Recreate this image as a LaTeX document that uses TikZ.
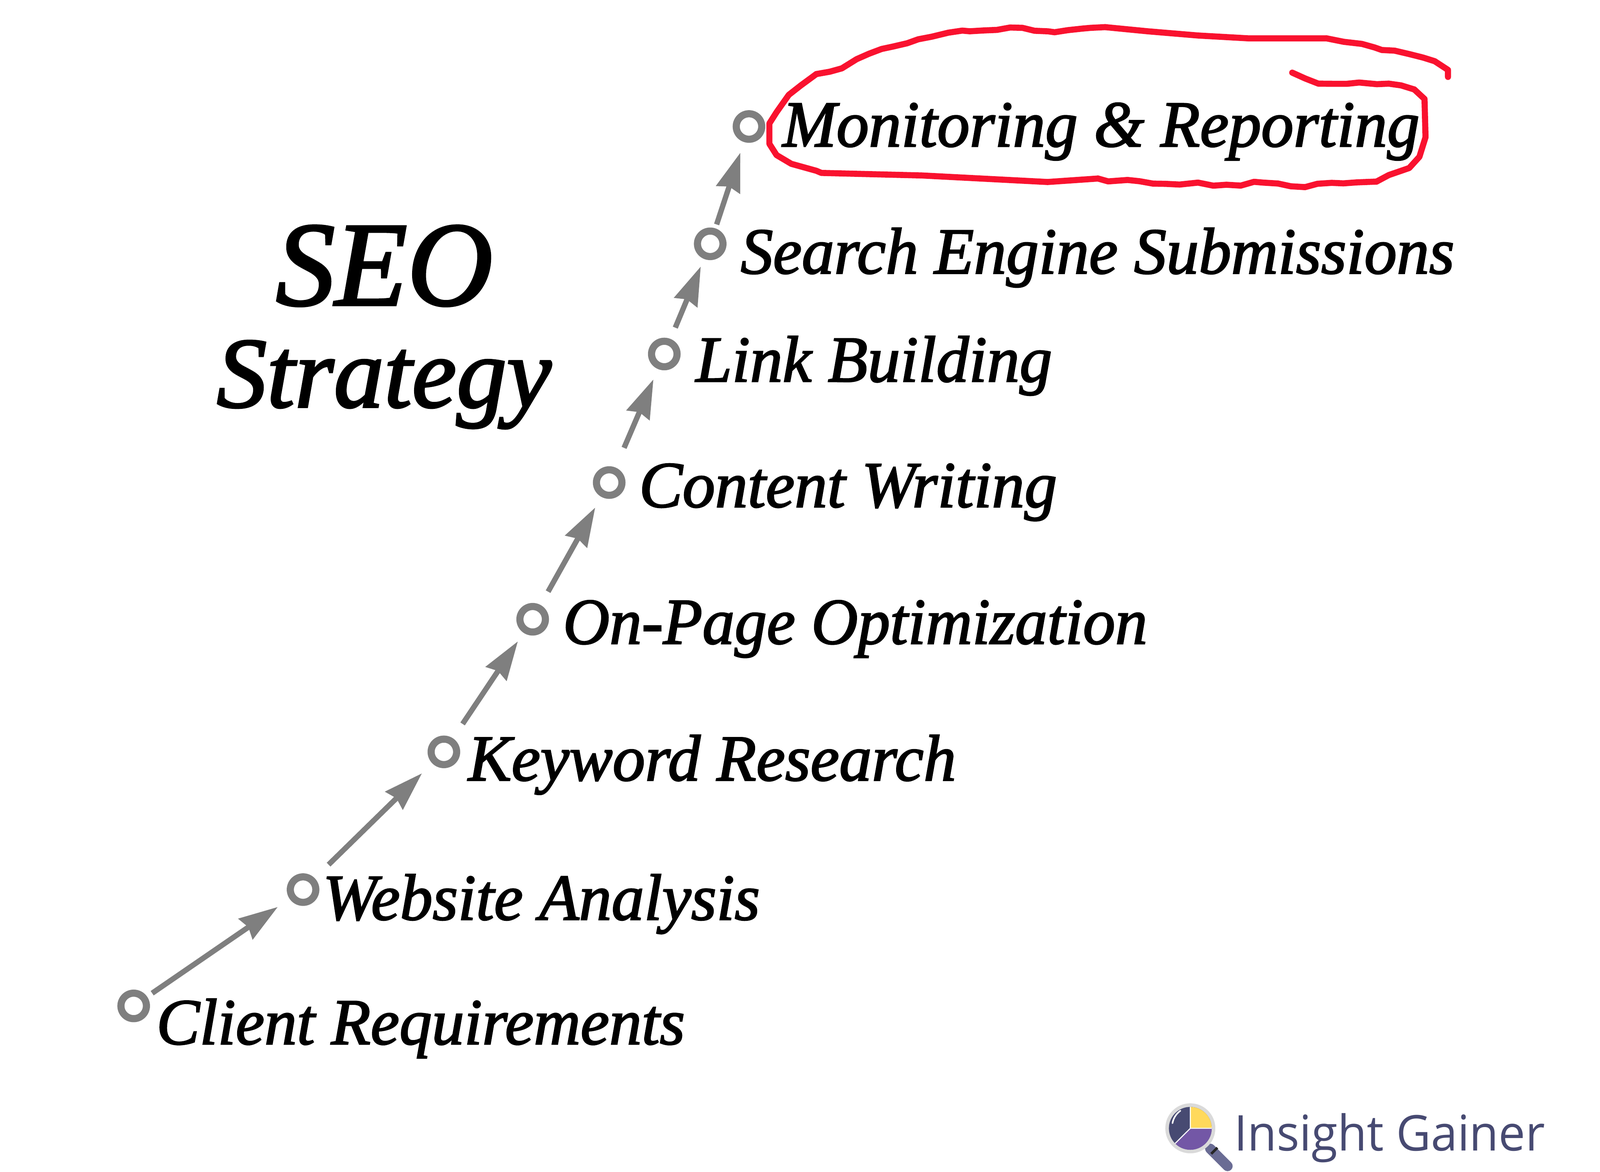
\documentclass[tikz,border=0pt]{standalone}
\usepackage{graphicx}
\usepackage{fontspec}
\setmainfont{Liberation Serif}
\newfontfamily\labfont{Liberation Serif Italic}[FakeBold=2]
\newfontfamily\logofont{Open Sans}
\usetikzlibrary{arrows.meta,decorations.pathmorphing}
\definecolor{ringgray}{HTML}{7F7F7F}
\definecolor{scribble}{HTML}{F9122F}
\definecolor{logoink}{HTML}{474A72}
\definecolor{logoyel}{HTML}{FFD95C}
\definecolor{logopur}{HTML}{7357A6}
\definecolor{logorim}{HTML}{DADADA}
\definecolor{logohan}{HTML}{6A6C94}
\newcommand{\squeezed}[2]{\scalebox{#1}[1]{#2}}
\tikzset{
  ring/.style={circle,draw=ringgray,line width=0.14cm,minimum size=0.5cm,inner sep=0pt,fill=white},
  stepline/.style={draw=ringgray,line width=0.105cm,-{Stealth[length=0.76cm,width=0.48cm,inset=0.06cm]}},
  lab/.style={anchor=base west,inner sep=0pt,font=\labfont\fontsize{36.5}{36.5}\selectfont,text=black},
  redline/.style={draw=scribble,line width=0.12cm,line join=round,line cap=round},
  jag/.style={redline,decorate,decoration={random steps,segment length=0.26cm,amplitude=0.035cm}}
}
\begin{document}
\begin{tikzpicture}[x=0.02cm,y=-0.02cm]
\useasboundingbox (0,0) rectangle (1568,1148.7);
\node[ring] (r1) at (131,986) {};
\node[ring] (r2) at (297,872) {};
\node[ring] (r3) at (435,737) {};
\node[ring] (r4) at (522,607) {};
\node[ring] (r5) at (597,473) {};
\node[ring] (r6) at (651,347) {};
\node[ring] (r7) at (696,239) {};
\node[ring] (r8) at (734,124) {};
\draw[stepline,shorten <=0.12cm,shorten >=0.28cm] (r1) -- (r2);
\draw[stepline,shorten <=0.38cm,shorten >=0.28cm] (r2) -- (r3);
\draw[stepline,shorten <=0.34cm,shorten >=0.2cm] (r3) -- (r4);
\draw[stepline,shorten <=0.3cm,shorten >=0.24cm] (r4) -- (r5);
\draw[stepline,shorten <=0.42cm,shorten >=0.22cm] (r5) -- (r6);
\draw[stepline,shorten <=0.24cm,shorten >=0.16cm] (r6) -- (r7);
\draw[stepline,shorten <=0.08cm,shorten >=0.22cm] (r7) -- (r8);
\node[lab] (t1) at (153,1023.5) {\squeezed{0.99}{Client Requirements}};
\node[lab] (t2) at (316,901.5) {\squeezed{0.995}{Website Analysis}};
\node[lab] (t3) at (458.5,765) {\squeezed{0.993}{Keyword Research}};
\node[lab] (t4) at (551.5,631) {\squeezed{0.983}{On-Page Optimization}};
\node[lab] (t5) at (626,497) {\squeezed{0.995}{Content Writing}};
\node[lab] (t6) at (681.5,374) {\squeezed{0.995}{Link Building}};
\node[lab] (t7) at (725.5,268) {\squeezed{0.99}{Search Engine Submissions}};
\node[lab] (t8) at (766.5,143.5) {\squeezed{0.99}{Monitoring \& Reporting}};
\node[anchor=base west,inner sep=0pt,font=\labfont\fontsize{67}{67}\selectfont] (seo) at (270,299) {\squeezed{0.985}{SEO}};
\node[anchor=base west,inner sep=0pt,font=\labfont\fontsize{56}{56}\selectfont] (strat) at (212,399) {\squeezed{1}{Strategy}};
\draw[jag] (1419,75.4)--(1419,68.5)--(1406,60)--(1381,53)--(1347,46.5)--(1317,41)--(1300,37.6);
\draw[redline] (1300,37.6)--(1223.5,37.6)--(1174,34.8)--(1125,30.7)--(1083,26.6);
\draw[jag] (1083,26.6)--(1061,28)--(1027,30.7)--(1002,27.3)--(977,29.3)--(943,30)--(913,36)--(889,42.4)--(864,48)--(839.5,58)--(825,67)--(800,72.6);
\draw[redline] (800,72.6)--(785,83.6)--(773,93)--(761,110)--(754,121)--(754,141)--(761,152)--(775.5,160.6)--(800,167.4)--(805,169.5)--(903.5,172)--(1026.6,178.4)--(1076,175);
\draw[jag] (1076,175)--(1086,177.8)--(1105,176.4)--(1130,180)--(1174,179)--(1189,182)--(1238,179)--(1265,182.6)--(1349,178);
\draw[redline] (1349,178)--(1361,171.6)--(1381,164.7)--(1391,153.7)--(1397,134.5)--(1396,97)--(1386,87.7);
\draw[jag] (1386,87.7)--(1361,82)--(1332,80.9)--(1292,82)--(1273,74)--(1267,70);
% logo
\draw[line width=0.14cm,logorim] (1180,1120)--(1186,1127);
\draw[line width=0.2cm,logohan,line cap=round] (1186,1126)--(1203,1143);
\draw[line width=0.05cm,black!85] (1187,1131)--(1193,1125);
\fill[logorim] (1166.5,1106) circle (24.5);
\fill[logoink] (1166.5,1106) circle (21);
\fill[logoyel] (1166.5,1106) -- (1166.5,1085) arc[start angle=-90,end angle=0,radius=21] -- cycle;
\fill[logopur] (1166.5,1106) -- (1187.5,1106) arc[start angle=0,end angle=135,radius=21] -- cycle;
\draw[white,line width=0.02cm] (1166.5,1085)--(1166.5,1106)--(1187.5,1106) (1166.5,1106)--(1151.6,1120.8);
\draw[white,line width=0.03cm,line cap=round] (1149,1101) arc[start angle=190,end angle=235,radius=19];
\node[anchor=base west,inner sep=0pt,text=logoink,font=\logofont\fontsize{27.5}{27.5}\selectfont] (brand) at (1209,1128) {\squeezed{0.968}{Insight Gainer}};
\end{tikzpicture}
\end{document}
